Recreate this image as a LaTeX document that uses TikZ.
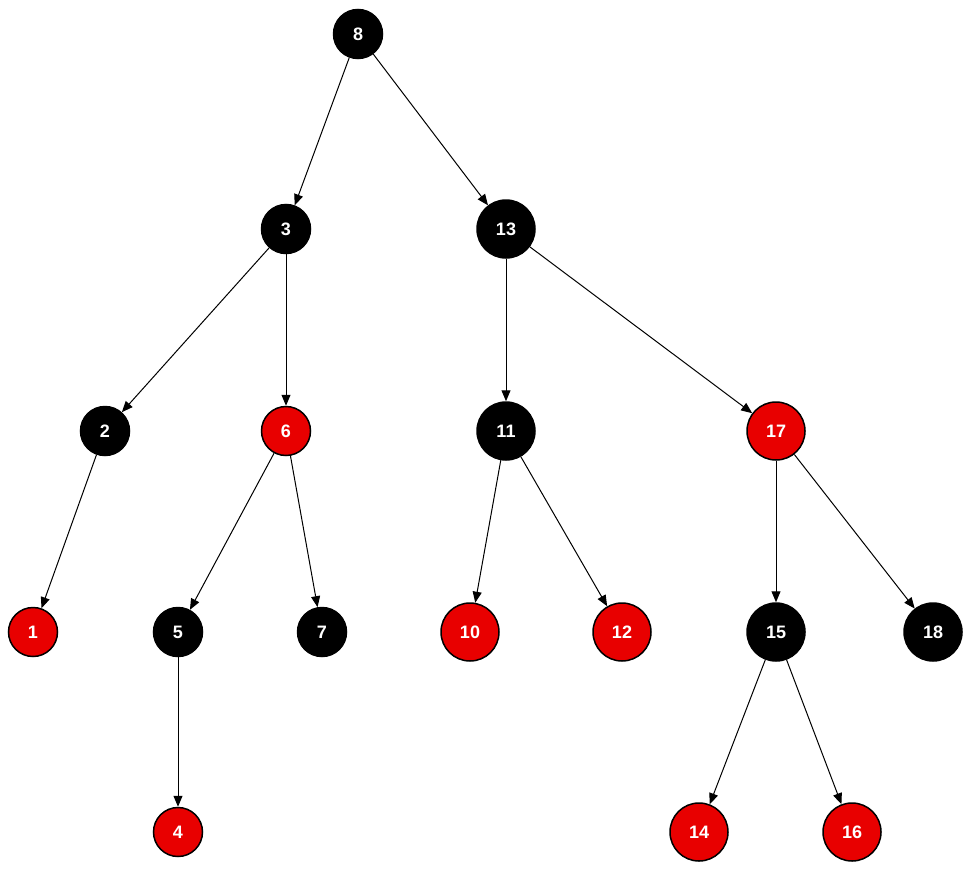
\documentclass[tikz,border=0pt]{standalone}
\usepackage{fontspec}
\setmainfont{Liberation Sans}
\usetikzlibrary{arrows.meta}
\definecolor{rbred}{RGB}{232,0,0}
\begin{document}
\begin{tikzpicture}[x=1pt,y=-1pt,
  rbnode/.style={circle,draw=black,line width=1.5pt,text=white,inner sep=0pt},
  small/.style={rbnode,minimum size=49pt},
  big/.style={rbnode,minimum size=58pt},
  blk/.style={fill=black},
  rd/.style={fill=rbred},
  edge/.style={draw=black,line width=1.0pt,-{Triangle[length=11pt,width=9pt]}}]
\useasboundingbox (0,0) rectangle (968,872);
\tikzset{every node/.append style={font=\fontsize{18}{20}\selectfont\bfseries}}
\node[small,blk] (n8) at (358,34) {8};
\node[small,blk] (n3) at (286,229) {3};
\node[big,blk] (n13) at (506,229) {13};
\node[small,blk] (n2) at (105,431) {2};
\node[small,rd] (n6) at (286,431) {6};
\node[big,blk] (n11) at (506,431) {11};
\node[big,rd] (n17) at (776,431) {17};
\node[small,rd] (n1) at (33,632) {1};
\node[small,blk] (n5) at (178,632) {5};
\node[small,blk] (n7) at (322,632) {7};
\node[big,rd] (n10) at (470,632) {10};
\node[big,rd] (n12) at (622,632) {12};
\node[big,blk] (n15) at (776,632) {15};
\node[big,blk] (n18) at (933,632) {18};
\node[small,rd] (n4) at (178,832) {4};
\node[big,rd] (n14) at (699,832) {14};
\node[big,rd] (n16) at (852,832) {16};
\draw[edge] (n8) -- (n3);
\draw[edge] (n8) -- (n13);
\draw[edge] (n3) -- (n2);
\draw[edge] (n3) -- (n6);
\draw[edge] (n13) -- (n11);
\draw[edge] (n13) -- (n17);
\draw[edge] (n2) -- (n1);
\draw[edge] (n6) -- (n5);
\draw[edge] (n6) -- (n7);
\draw[edge] (n11) -- (n10);
\draw[edge] (n11) -- (n12);
\draw[edge] (n17) -- (n15);
\draw[edge] (n17) -- (n18);
\draw[edge] (n5) -- (n4);
\draw[edge] (n15) -- (n14);
\draw[edge] (n15) -- (n16);
\end{tikzpicture}
\end{document}
